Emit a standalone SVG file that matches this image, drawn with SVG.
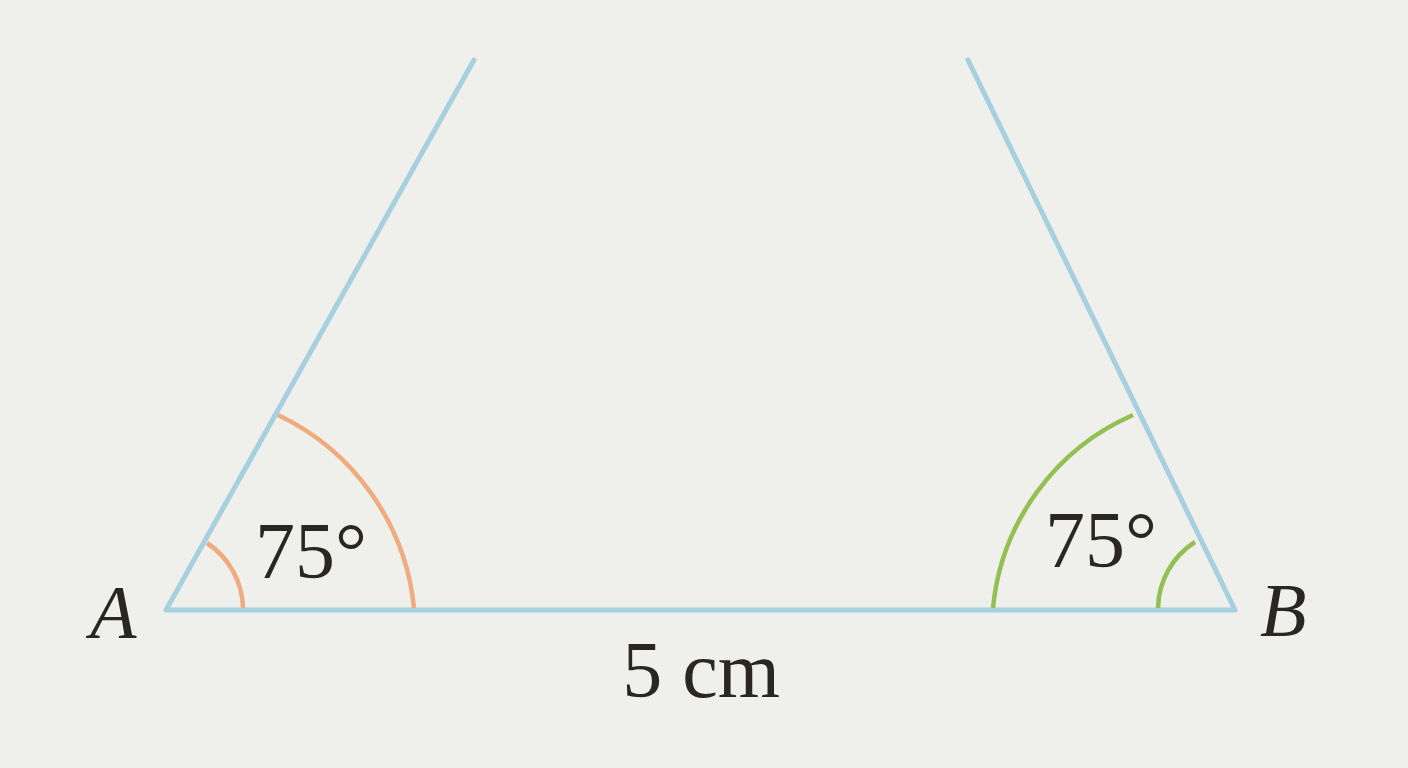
<svg xmlns="http://www.w3.org/2000/svg" width="1408" height="768" viewBox="0 0 1408 768">
<style>
.ln{stroke:#a6cfe0;stroke-width:5;fill:none;stroke-linecap:round;stroke-linejoin:round}
.or{stroke:#f0ac7e;stroke-width:4.5;fill:none}
.gr{stroke:#93c052;stroke-width:4.5;fill:none}
.t{font-family:"Liberation Serif","Times New Roman",serif;fill:#2a2622}
</style>
<rect width="1408" height="768" fill="#efefeb"/>
<g id="lines">
<path class="ln" d="M474,60 L166,610 L1235,610 L968,60"/>
</g>
<g id="angleA">
<path class="or" d="M243,608 A80,80 0 0 0 207,543"/>
<path class="or" d="M414,608 A240,240 0 0 0 278,415"/>
<text class="t" x="255" y="578" font-size="80">75°</text>
</g>
<g id="angleB">
<path class="gr" d="M1158,608 A80,80 0 0 1 1195,542"/>
<path class="gr" d="M993,608 A235,235 0 0 1 1133,415"/>
<text class="t" x="1045" y="567" font-size="80">75°</text>
</g>
<g id="labels">
<text class="t" x="90" y="638" font-size="76" font-style="italic">A</text>
<text class="t" x="1260" y="636" font-size="76" font-style="italic">B</text>
<text class="t" x="701" y="697" font-size="80" text-anchor="middle">5 cm</text>
</g>
</svg>
